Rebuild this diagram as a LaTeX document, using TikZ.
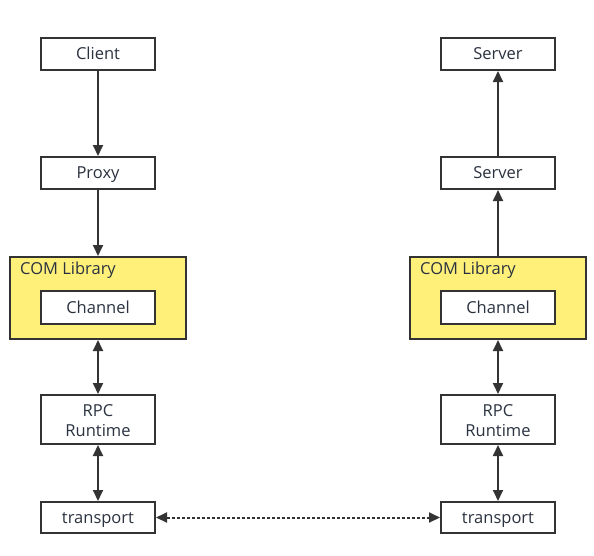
\documentclass[tikz,border=0pt]{standalone}
\usepackage{fontspec}
\setmainfont{Open Sans}
\usetikzlibrary{arrows.meta}
\definecolor{ln}{HTML}{333333}
\definecolor{tx}{HTML}{2A3240}
\definecolor{yel}{HTML}{FFF07A}
\begin{document}
\begin{tikzpicture}[x=1pt,y=-1pt,
  fnt/.style={font=\fontsize{16.5}{19.5}\selectfont,text=tx},
  box/.style={draw=ln,line width=2pt,fill=white,minimum width=114pt,minimum height=32pt,inner sep=0pt,fnt,align=center,text height=14.5pt,text depth=3pt},
  box2/.style={box,minimum height=49pt,text height=36pt,text depth=3pt},
  lib/.style={draw=ln,line width=2pt,fill=yel,minimum width=176pt,minimum height=82pt,inner sep=0pt},
  arr/.style={draw=ln,line width=1.8pt,-{Triangle[length=11pt,width=10pt]}},
  darr/.style={draw=ln,line width=1.8pt,{Triangle[length=11pt,width=10pt]}-{Triangle[length=11pt,width=10pt]}}]
\useasboundingbox (0,0) rectangle (594,555);
% left
\node[box] (client) at (98,54) {Client};
\node[box] (proxy) at (98,173) {Proxy};
\node[lib] (libL) at (98,298) {};
\node[anchor=base west,inner sep=0pt,fnt] (libLt) at (20,274) {COM Library};
\node[box,minimum height=33pt] (chL) at (98,307.5) {Channel};
\node[box2] (rpcL) at (98,419.5) {RPC\\Runtime};
\node[box,minimum height=31pt] (trL) at (98,517.5) {transport};
% right
\node[box] (server) at (498,54) {Server};
\node[box] (server2) at (498,173) {Server};
\node[lib] (libR) at (498,298) {};
\node[anchor=base west,inner sep=0pt,fnt] (libRt) at (420,274) {COM Library};
\node[box,minimum height=33pt] (chR) at (498,307.5) {Channel};
\node[box2] (rpcR) at (498,419.5) {RPC\\Runtime};
\node[box,minimum height=31pt] (trR) at (498,517.5) {transport};
% connectors
\draw[arr] (client) -- (proxy);
\draw[arr] (proxy) -- (libL);
\draw[darr] (libL) -- (rpcL);
\draw[darr] (rpcL) -- (trL);
\draw[arr] (libR) -- (server2);
\draw[arr] (server2) -- (server);
\draw[darr] (libR) -- (rpcR);
\draw[darr] (rpcR) -- (trR);
\draw[darr,line width=2pt,dash pattern=on 3pt off 2pt] (trL) -- (trR);
\end{tikzpicture}
\end{document}
